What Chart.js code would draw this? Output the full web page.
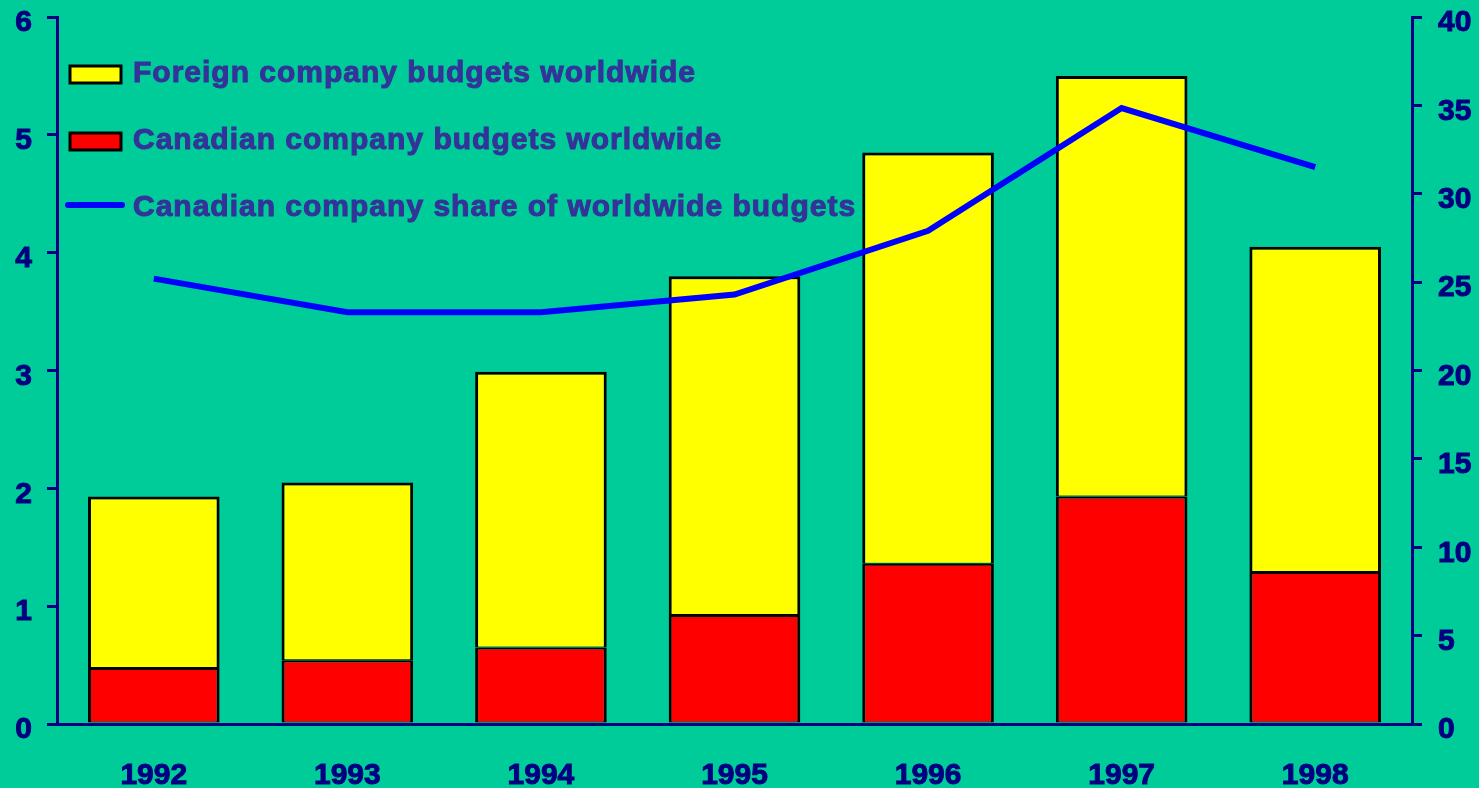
<!DOCTYPE html>
<html>
<head>
<meta charset="utf-8">
<script src="https://cdn.jsdelivr.net/npm/chart.js@4.4.0/dist/chart.umd.min.js"></script>
<style>
  body { margin: 0; background: #00cc99; }
  #wrap { width: 1479px; height: 788px; }
</style>
</head>
<body>
<div id="wrap"><canvas id="budgetChart"></canvas></div>
<script>
const years = ['1992', '1993', '1994', '1995', '1996', '1997', '1998'];
const canadianBudgets = [0.475, 0.54, 0.65, 0.925, 1.36, 1.93, 1.29];
const foreignBudgets = [1.455, 1.51, 2.34, 2.875, 3.49, 3.57, 2.76];
const canadianShare = [25.2, 23.3, 23.3, 24.3, 27.9, 34.85, 31.5];

const navy = '#000080';
const legendColor = '#333399';
const fontFamily = '"Liberation Sans", Arial, sans-serif';
const tickFont = { family: fontFamily, size: 30, weight: 'bold' };

// legend drawn inside the plot area, top-left
const insideLegend = {
    id: 'insideLegend',
    afterDraw(chart) {
        const ctx = chart.ctx;
        const area = chart.chartArea;
        const items = [0, 1, 2].map(k => chart.data.datasets.find(d => d.legendPos == k));
        ctx.save();
        ctx.font = 'bold 30px ' + fontFamily;
        ctx.letterSpacing = '1px';
        ctx.textBaseline = 'middle';
        items.forEach((ds, i) => {
            const y = area.top + 57 + i * 67;
            if (ds.type == 'line') {
                ctx.strokeStyle = ds.borderColor;
                ctx.lineWidth = 6;
                ctx.lineCap = 'round';
                ctx.beginPath();
                ctx.moveTo(area.left + 11, y - 3);
                ctx.lineTo(area.left + 65, y - 3);
                ctx.stroke();
            } else {
                ctx.fillStyle = ds.backgroundColor;
                ctx.fillRect(area.left + 13, y - 8, 51, 17);
                ctx.strokeStyle = '#000';
                ctx.lineWidth = 3;
                ctx.strokeRect(area.left + 13, y - 8, 51, 17);
            }
            ctx.fillStyle = legendColor;
            ctx.strokeStyle = legendColor;
            ctx.lineWidth = 1;
            ctx.fillText(ds.label, area.left + 76, y);
            ctx.strokeText(ds.label, area.left + 76, y);
        });
        ctx.restore();
    }
};

function noPad(s) {
    s.paddingTop = 0;
    s.paddingBottom = 0;
}

new Chart(document.getElementById('budgetChart'), {
    data: {
        labels: years,
        datasets: [{
            type: 'line',
            label: 'Canadian company share of worldwide budgets',
            data: canadianShare,
            yAxisID: 'y1',
            borderColor: '#0000ff',
            borderWidth: 6,
            pointRadius: 0,
            tension: 0,
            order: 0,
            legendPos: 2
        }, {
            type: 'bar',
            label: 'Canadian company budgets worldwide',
            data: canadianBudgets,
            backgroundColor: '#ff0000',
            borderColor: '#000',
            borderWidth: { left: 3, right: 3, top: 2, bottom: 1 },
            borderSkipped: false,
            yAxisID: 'y',
            order: 1,
            legendPos: 1
        }, {
            type: 'bar',
            label: 'Foreign company budgets worldwide',
            data: foreignBudgets,
            backgroundColor: '#ffff00',
            borderColor: '#000',
            borderWidth: { left: 3, right: 3, top: 3, bottom: 1 },
            borderSkipped: false,
            yAxisID: 'y',
            order: 1,
            legendPos: 0
        }]
    },
    options: {
        responsive: true,
        maintainAspectRatio: false,
        animation: false,
        layout: { padding: { top: 17, left: 0, right: 0, bottom: 0 } },
        plugins: {
            legend: { display: false },
            tooltip: { enabled: false }
        },
        datasets: {
            bar: { categoryPercentage: 1, barPercentage: 0.68 }
        },
        scales: {
            x: {
                stacked: true,
                grid: { display: false },
                border: { color: navy, width: 3 },
                ticks: { color: navy, font: tickFont, padding: 26, textStrokeColor: navy, textStrokeWidth: 1 },
                afterFit: s => { s.height = 64; }
            },
            y: {
                stacked: true,
                position: 'left',
                min: 0,
                max: 6,
                grid: { drawOnChartArea: false, tickLength: 10, color: navy, lineWidth: 3 },
                border: { color: navy, width: 3 },
                ticks: { stepSize: 1, color: navy, font: tickFont, padding: 15, labelOffset: 6, textStrokeColor: navy, textStrokeWidth: 1 },
                afterFit: s => { s.width = 57; noPad(s); }
            },
            y1: {
                position: 'right',
                min: 0,
                max: 40,
                grid: { drawOnChartArea: false, tickLength: 10, color: navy, lineWidth: 3 },
                border: { color: navy, width: 3 },
                ticks: { stepSize: 5, color: navy, font: tickFont, padding: 16, labelOffset: 6, textStrokeColor: navy, textStrokeWidth: 1 },
                afterFit: s => { s.width = 67; noPad(s); }
            }
        }
    },
    plugins: [insideLegend]
});
</script>
</body>
</html>
